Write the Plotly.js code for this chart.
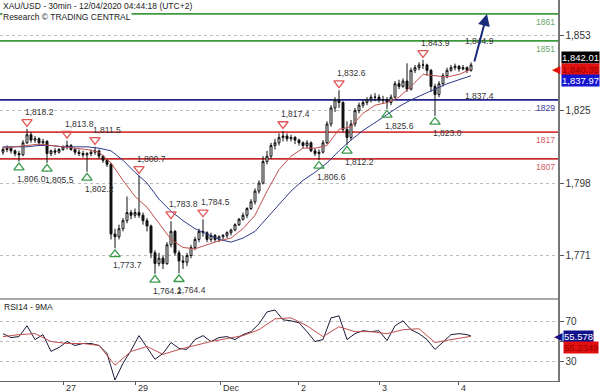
<!DOCTYPE html>
<html><head><meta charset="utf-8">
<script src="https://cdn.plot.ly/plotly-3.0.1.min.js"></script>
<style>html,body{margin:0;padding:0;background:#fff}#chart{width:600px;height:392px}</style>
</head><body><div id="chart"></div><script>
// ---- data (30min XAU/USD, sampled per candle index) ----
const opens = [1809.5,1810.5,1811,1810,1809,1808.5,1813,1816,1814,1814.5,1813,1813.5,1809,1810,1809.5,1810.5,1811.5,1812,1810.5,1809.5,1809,1808.5,1809,1809.5,1810,1808,1806.5,1805,1779,1778,1781,1784,1787,1786,1787,1786,1784,1782,1772,1768,1770,1768,1775,1780,1772,1769,1768.5,1771,1774,1777,1780,1779.5,1777,1778.5,1777,1778,1778.5,1779.5,1780.5,1782.5,1784.5,1786,1788.5,1791,1795,1798,1806,1808,1812,1813,1815,1815.5,1814.5,1815,1814,1813,1812,1813,1810,1809,1809.5,1813,1820,1826,1829,1828,1818,1815,1820,1825,1827,1828,1829,1830,1830,1829,1829,1828,1830,1835,1834,1836,1833,1840,1841,1842,1842,1840,1834,1831,1835,1838,1840,1841,1841.5,1840.5,1841,1840];
const highs = [1811.5,1812,1811.5,1810.5,1810,1814,1818.2,1817,1815.5,1815,1814.5,1814,1810.5,1811,1811,1812,1813.8,1812.5,1811,1810.5,1810,1809.5,1810.5,1811.5,1810.5,1808.5,1807,1805.5,1781,1782.5,1785,1793,1788,1788.5,1800.7,1787,1785,1782.5,1773,1772,1771,1776,1783.8,1780.5,1773,1771,1772,1775,1778,1781,1784.5,1780,1779.5,1779,1778.5,1779,1780,1781,1783,1785,1787,1789,1792,1796,1799,1808,1810,1813,1814.5,1816.5,1817.4,1816.5,1816,1815.5,1814.5,1813.5,1814,1813.5,1811,1810.5,1814,1821,1827,1830,1832.6,1828.5,1821,1821.5,1826,1828,1829,1830,1831,1831.5,1831,1830.5,1830,1831,1836,1836.5,1837,1842.6,1841,1842,1843,1843.9,1842.5,1840.5,1835,1836,1839,1841,1842,1842.5,1842,1842,1841.5,1843];
const lows = [1808.5,1809.5,1809,1808,1806.0,1808,1812.5,1813,1813,1812,1812,1805.5,1808,1808.5,1809,1810,1810.5,1810,1808.5,1808,1807.5,1802.2,1808,1808.5,1807,1805.5,1804,1777,1773.7,1777,1780,1783,1784.5,1785,1785,1782.5,1780,1770,1764.2,1767,1766,1767.5,1774,1771,1764.4,1766,1767,1770,1773,1776,1778,1776,1776,1776,1776,1777,1777.5,1778.5,1780,1782,1784,1785,1788,1790,1794,1797.5,1805,1807,1810.5,1812,1813.5,1813.5,1813.5,1812.5,1812,1811,1811,1809.5,1808,1806.6,1809,1812.5,1819,1824.5,1826,1817,1812.2,1814,1819,1824,1826,1827,1828,1828.5,1828,1827.5,1825.6,1827,1829.5,1833,1833.5,1832,1832.5,1839,1840,1840.5,1838,1832,1823.0,1830,1834,1837,1839.5,1840,1839.5,1840,1839,1839.5];
const closes = [1810.5,1811,1810,1809,1808.5,1813,1816,1814,1814.5,1813,1813.5,1809,1810,1809.5,1810.5,1811.5,1812,1810.5,1809.5,1809,1808.5,1809,1809.5,1810,1808,1806.5,1805,1779,1778,1781,1784,1787,1786,1787,1786,1784,1782,1772,1768,1770,1768,1775,1780,1772,1769,1768.5,1771,1774,1777,1780,1779.5,1777,1778.5,1777,1778,1778.5,1779.5,1780.5,1782.5,1784.5,1786,1788.5,1791,1795,1798,1806,1808,1812,1813,1815,1815.5,1814.5,1815,1814,1813,1812,1813,1810,1809,1809.5,1813,1820,1826,1829,1828,1818,1815,1820,1825,1827,1828,1829,1830,1830,1829,1829,1828,1830,1835,1834,1836,1833,1840,1841,1842,1842,1840,1834,1831,1835,1838,1840,1841,1841.5,1840.5,1841,1840,1842.01];

const maIndex = [0,3,6,9,12,15,18,21,24,27,30,33,36,39,42,45,48,51,54,57,60,63,66,69,72,75,78,81,84,87,90,93,96,99,102,105,108,111,114,117];
const maFast = [1811,1811.5,1812,1812.5,1812,1811.5,1811,1810.5,1809.5,1805.5,1799,1793,1789,1783,1777,1774,1773.5,1775,1776.5,1777.5,1781,1786,1795,1803,1808,1811,1811,1812,1818,1819,1824,1827,1828,1830,1834,1838.5,1838,1837.5,1838.5,1840.35];
const maSlow = [1811.5,1811.5,1811.5,1812,1812,1811.5,1811.5,1811.5,1811,1810,1806.5,1802,1798,1792,1787.5,1784,1781,1779,1777,1776,1777.5,1780,1785,1790,1795,1799,1802,1805.5,1810,1814,1817.6,1820.5,1823.5,1826.5,1829,1831,1833,1835,1836.5,1837.97];

const rsiIndex = [0,2,4,6,8,10,12,14,16,18,20,22,24,26,28,30,32,34,36,38,40,42,44,46,48,50,52,54,56,58,60,62,64,66,68,70,72,74,76,78,80,82,84,86,88,90,92,94,96,98,100,102,104,106,108,110,112,114,116,117];
const rsi = [58,54,55,66,52,57,40,44,50,46,48,48,46,38,11,28,41,56,44,32,38,49,43,42,52,56,50,54,55,52,57,60,68,80,82,72,71,69,60,50,52,74,76,52,58,61,60,61,51,66,71,62,58,52,42,50,57,58,57,55.578];
const rsiMaIndex = [0,4,8,12,16,20,24,28,32,36,40,44,48,52,56,60,64,68,72,76,80,84,88,92,96,100,104,108,112,117];
const rsiMa = [55,57,58,50,48,48,46,26,40,45,37,42,46,50,53,56,62,73,74,66,55,65,60,60,58,62,63,49,52,55.2349];

const levels = [1861,1851,1829,1817,1807];
const levelColors = ['#3f9a3f','#3f9a3f','#22228a','#d63a3a','#c83030'];
const levelTextColors = ['#6aa86a','#6aa86a','#3a3a9a','#d06060','#d06060'];

const pivotHighIdx = [6,16,23,34,42,50,70,84,105];
const pivotHighVal = [1818.2,1813.8,1811.5,1800.7,1783.8,1784.5,1817.4,1832.6,1843.9];
const pivotLowIdx = [4,11,21,28,38,44,79,86,96,108];
const pivotLowVal = [1806.0,1805.5,1802.2,1773.7,1764.2,1764.4,1806.6,1812.2,1825.6,1823.0];

const extraHighLabel = {idx:116, val:1844.9};
const extraLowLabel = {idx:116, val:1837.4};

const dayTicks = [15,33,54.25,73.75,94,113.75];
const dayLabels = ['27','29','Dec','2','3','4'];
const priceTicks = [1771,1798,1825,1853];
const rsiTicks = [30,50,70];

const titleLine1 = 'XAU/USD - 30min - 12/04/2020 04:44:18 (UTC+2)';
const titleLine2 = 'Research © TRADING CENTRAL';
const rsiTitle = 'RSI14 - 9MA';

// ---- chart ----
const FONT = 'Liberation Sans, Arial, sans-serif';
const idx = closes.map((_, i) => i);
const yRange = [1754.8, 1866.2];
const mainDomain = [0.2152, 1];
const plotH = 392 - 11;
const pxPerUnit = plotH * (mainDomain[1]-mainDomain[0]) / (yRange[1]-yRange[0]);
const fmt = (v, d) => v.toLocaleString('en-US', {minimumFractionDigits:d, maximumFractionDigits:d});

const traces = [
  {type:'candlestick', x:idx, open:opens, high:highs, low:lows, close:closes, xaxis:'x', yaxis:'y',
   increasing:{line:{color:'#111', width:1}, fillcolor:'#ffffff'},
   decreasing:{line:{color:'#111', width:1}, fillcolor:'#111'},
   whiskerwidth:0, hoverinfo:'skip'},
  {type:'scatter', mode:'lines', x:maIndex, y:maSlow, line:{color:'#2d3a8c', width:1}, xaxis:'x', yaxis:'y', hoverinfo:'skip'},
  {type:'scatter', mode:'lines', x:maIndex, y:maFast, line:{color:'#c0504d', width:1}, xaxis:'x', yaxis:'y', hoverinfo:'skip'},
  {type:'scatter', mode:'markers', x:pivotHighIdx, y:pivotHighVal.map(v => v + 7/pxPerUnit),
   marker:{symbol:'triangle-down-open', size:9, color:'#e05555', line:{width:1.3, color:'#e05555'}}, xaxis:'x', yaxis:'y', hoverinfo:'skip'},
  {type:'scatter', mode:'markers', x:pivotLowIdx, y:pivotLowVal.map(v => v - 6/pxPerUnit),
   marker:{symbol:'triangle-up-open', size:9, color:'#3a9a4a', line:{width:1.3, color:'#3a9a4a'}}, xaxis:'x', yaxis:'y', hoverinfo:'skip'},
  {type:'scatter', mode:'lines', x:rsiIndex, y:rsi, line:{color:'#1a1a3a', width:1}, xaxis:'x', yaxis:'y2', hoverinfo:'skip'},
  {type:'scatter', mode:'lines', x:rsiMaIndex, y:rsiMa, line:{color:'#c0504d', width:1}, xaxis:'x', yaxis:'y2', hoverinfo:'skip'}
];

const shapes = levels.map((lv, k) => ({type:'line', xref:'paper', x0:0, x1:1, yref:'y', y0:lv, y1:lv,
  line:{color:levelColors[k], width:1.8}, layer:'between'}));
shapes.push({type:'line', xref:'paper', yref:'paper', x0:0, x1:1, y0:mainDomain[0], y1:mainDomain[0], line:{color:'#555', width:1.2}});

const annotations = [];
const lab = {family:FONT, size:8.5, color:'#333'};
pivotHighIdx.forEach((x, k) => annotations.push({x:x, y:pivotHighVal[k], xref:'x', yref:'y', text:fmt(pivotHighVal[k],1),
  showarrow:false, xanchor:'left', yanchor:'middle', xshift:-4, yshift:17, font:lab}));
pivotLowIdx.forEach((x, k) => annotations.push({x:x, y:pivotLowVal[k], xref:'x', yref:'y', text:fmt(pivotLowVal[k],1),
  showarrow:false, xanchor:'left', yanchor:'middle', xshift:-4, yshift:-17, font:lab}));
annotations.push({x:extraHighLabel.idx, y:extraHighLabel.val, xref:'x', yref:'y', text:fmt(extraHighLabel.val,1), showarrow:false,
  xanchor:'left', yanchor:'middle', xshift:-4, yshift:16, font:lab});
annotations.push({x:extraLowLabel.idx, y:extraLowLabel.val, xref:'x', yref:'y', text:fmt(extraLowLabel.val,1), showarrow:false,
  xanchor:'left', yanchor:'middle', xshift:-4, yshift:-19, font:lab});
levels.forEach((lv, k) => annotations.push({x:1, y:lv, xref:'paper', yref:'y', text:String(lv), showarrow:false,
  xanchor:'right', yanchor:'top', yshift:-1, xshift:-1, font:{family:FONT, size:8.5, color:levelTextColors[k]}}));
annotations.push({x:0, y:1, xref:'paper', yref:'paper', text:titleLine1, showarrow:false, xanchor:'left', yanchor:'top',
  xshift:2, yshift:0, bgcolor:'#fff', borderpad:0, font:{family:FONT, size:8.5, color:'#222'}});
annotations.push({x:0, y:1, xref:'paper', yref:'paper', text:titleLine2, showarrow:false, xanchor:'left', yanchor:'top',
  xshift:2, yshift:-11, bgcolor:'#fff', borderpad:0, font:{family:FONT, size:8.5, color:'#222'}});
annotations.push({x:0, y:mainDomain[0], xref:'paper', yref:'paper', text:rsiTitle, showarrow:false,
  xanchor:'left', yanchor:'top', xshift:2, yshift:-1, font:{family:FONT, size:8.5, color:'#222'}});
dayTicks.forEach((t, k) => annotations.push({x:t, y:0, xref:'x', yref:'paper', text:dayLabels[k], showarrow:false,
  xanchor:'left', yanchor:'top', xshift:1, yshift:0, font:{family:FONT, size:9, color:'#333'}}));
// projection arrow
const lastI = idx[idx.length-1];
annotations.push({x:lastI + 4, y:levels[0], ax:lastI + 0.75, ay:highs[highs.length-1] - 0.3, xref:'x', yref:'y', axref:'x', ayref:'y',
  text:'', showarrow:true, arrowhead:2, arrowsize:1.2, arrowwidth:2, arrowcolor:'#1b2a7a'});
// right-side value tags
const tagFont = c => ({family:FONT, size:9.5, color:c});
annotations.push({x:1, y:closes[closes.length-1], xref:'paper', yref:'y', text:fmt(closes[closes.length-1],2), showarrow:false,
  xanchor:'left', yanchor:'middle', xshift:3, yshift:7, bgcolor:'#000', borderpad:0, font:tagFont('#fff')});
annotations.push({x:1, y:maFast[maFast.length-1], xref:'paper', yref:'y', text:fmt(maFast[maFast.length-1],2), showarrow:false,
  xanchor:'left', yanchor:'middle', xshift:3, yshift:0, bgcolor:'#e31010', borderpad:0, font:tagFont('#9a0000')});
annotations.push({x:1, y:maFast[maFast.length-1], xref:'paper', yref:'y', text:'◀', showarrow:false,
  xanchor:'right', yanchor:'middle', xshift:5, yshift:0, font:{size:11, color:'#e31010'}});
annotations.push({x:1, y:maSlow[maSlow.length-1], xref:'paper', yref:'y', text:fmt(maSlow[maSlow.length-1],2), showarrow:false,
  xanchor:'left', yanchor:'middle', xshift:3, yshift:-5, bgcolor:'#1515d0', borderpad:0, font:tagFont('#fff')});
annotations.push({x:1, y:rsi[rsi.length-1], xref:'paper', yref:'y2', text:String(rsi[rsi.length-1]), showarrow:false,
  xanchor:'left', yanchor:'middle', xshift:5, yshift:0, bgcolor:'#10108a', borderpad:0, font:tagFont('#fff')});
annotations.push({x:1, y:rsi[rsi.length-1], xref:'paper', yref:'y2', text:'◀', showarrow:false,
  xanchor:'right', yanchor:'middle', xshift:7, yshift:0, font:{size:11, color:'#10108a'}});
annotations.push({x:1, y:rsiMa[rsiMa.length-1], xref:'paper', yref:'y2', text:String(rsiMa[rsiMa.length-1]), showarrow:false,
  xanchor:'left', yanchor:'middle', xshift:5, yshift:-11, bgcolor:'#e31010', borderpad:0, font:tagFont('#9a0000')});

const axFont = {family:FONT, size:10, color:'#333'};
const layout = {
  width:600, height:392, margin:{l:0, r:42, t:0, b:11},
  paper_bgcolor:'#fff', plot_bgcolor:'#fff', showlegend:false,
  font:axFont,
  xaxis:{domain:[0,1], range:[-0.75,138.75], anchor:'y2', rangeslider:{visible:false},
    tickmode:'array', tickvals:dayTicks, ticktext:dayLabels.map(() => ''), ticks:'outside', ticklen:3, tickcolor:'#555',
    showgrid:false, zeroline:false, showline:true, linecolor:'#666', linewidth:1},
  yaxis:{domain:mainDomain, range:yRange, side:'right', anchor:'x', tickmode:'array', tickvals:priceTicks,
    ticktext:priceTicks.map(v => fmt(v,0)), ticks:'outside', ticklen:4, tickcolor:'#555',
    showgrid:true, gridcolor:'#bdbdbd', griddash:'dot', gridwidth:1, zeroline:false,
    showline:true, linecolor:'#777', linewidth:1.5, tickfont:axFont},
  yaxis2:{domain:[0,0.2144], range:[10,92.8], side:'right', anchor:'x', tickmode:'array', tickvals:rsiTicks,
    ticktext:rsiTicks.map(v => v === 50 ? '' : String(v)), ticks:'outside', ticklen:4, tickcolor:'#555',
    showgrid:true, gridcolor:'#bdbdbd', griddash:'dot', gridwidth:1, zeroline:false,
    showline:true, linecolor:'#777', linewidth:1.5, tickfont:axFont},
  shapes:shapes, annotations:annotations
};
Plotly.newPlot('chart', traces, layout, {displayModeBar:false, staticPlot:true});
</script></body></html>
